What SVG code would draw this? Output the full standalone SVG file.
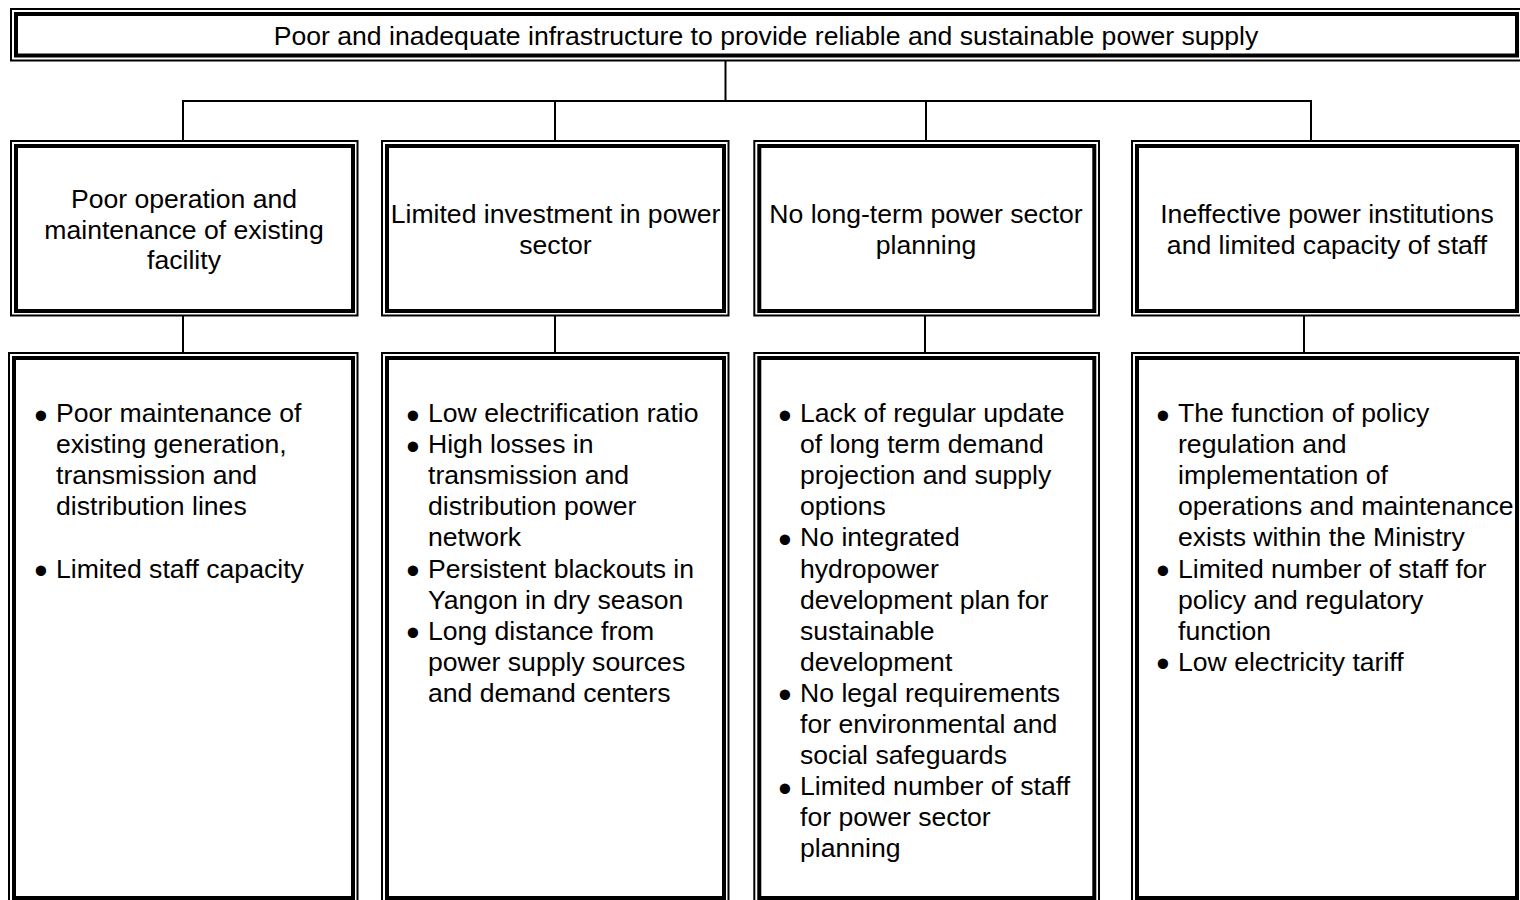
<svg xmlns="http://www.w3.org/2000/svg" width="1520" height="900" viewBox="0 0 1520 900">
  <style>
    .thin { fill: none; stroke: #000; stroke-width: 2; }
    .thick { fill: none; stroke: #000; stroke-width: 4; }
    .link { fill: none; stroke: #000; stroke-width: 2; }
    text { font-family: "Liberation Sans", Arial, sans-serif; font-size: 26.6px; fill: #000; }
    .c { text-anchor: middle; }
    .b { font-size: 38px; text-anchor: middle; }
  </style>
  <rect width="1520" height="900" fill="#fff"/>

  <!-- connectors -->
  <g id="connectors">
    <line class="link" x1="725.5" y1="61" x2="725.5" y2="101"/>
    <line class="link" x1="182" y1="101" x2="1312" y2="101"/>
    <line class="link" x1="183" y1="101" x2="183" y2="140"/>
    <line class="link" x1="555" y1="101" x2="555" y2="140"/>
    <line class="link" x1="926" y1="101" x2="926" y2="140"/>
    <line class="link" x1="1311" y1="100" x2="1311" y2="140"/>
    <line class="link" x1="183" y1="316" x2="183" y2="352"/>
    <line class="link" x1="555" y1="316" x2="555" y2="352"/>
    <line class="link" x1="925" y1="316" x2="925" y2="352"/>
    <line class="link" x1="1304" y1="316" x2="1304" y2="352"/>
  </g>

  <!-- root problem -->
  <g id="root">
    <rect class="thin" x="11" y="9" width="1511" height="51.5"/>
    <rect class="thick" x="16" y="14" width="1501" height="41.5"/>
    <text class="c" x="766" y="45">Poor and inadequate infrastructure to provide reliable and sustainable power supply</text>
  </g>

  <!-- causes -->
  <g id="cause-om">
    <rect class="thin" x="11" y="141" width="346.5" height="174.5"/>
    <rect class="thick" x="16" y="146" width="337" height="165"/>
    <text class="c" x="184" y="208">Poor operation and</text>
    <text class="c" x="184" y="238.5">maintenance of existing</text>
    <text class="c" x="184" y="269">facility</text>
  </g>
  <g id="cause-investment">
    <rect class="thin" x="382" y="141" width="346.5" height="174.5"/>
    <rect class="thick" x="387" y="146" width="337" height="165"/>
    <text class="c" x="555.5" y="223">Limited investment in power</text>
    <text class="c" x="555.5" y="254">sector</text>
  </g>
  <g id="cause-planning">
    <rect class="thin" x="754.3" y="141" width="344.7" height="174.5"/>
    <rect class="thick" x="759.3" y="146" width="335" height="165"/>
    <text class="c" x="926" y="223">No long-term power sector</text>
    <text class="c" x="926" y="254">planning</text>
  </g>
  <g id="cause-institutions">
    <rect class="thin" x="1132" y="141" width="390" height="174.5"/>
    <rect class="thick" x="1137" y="146" width="380" height="165"/>
    <text class="c" x="1327" y="223">Ineffective power institutions</text>
    <text class="c" x="1327" y="254">and limited capacity of staff</text>
  </g>

  <!-- details -->
  <g id="detail-om">
    <rect class="thin" x="9" y="353" width="348.5" height="560"/>
    <rect class="thick" x="14" y="358" width="339" height="540"/>
    <text class="b" x="41" y="428.5">•</text>
    <text x="56" y="422">Poor maintenance of</text>
    <text x="56" y="453.1">existing generation,</text>
    <text x="56" y="484.2">transmission and</text>
    <text x="56" y="515.3">distribution lines</text>
    <text class="b" x="41" y="584">•</text>
    <text x="56" y="577.5">Limited staff capacity</text>
  </g>
  <g id="detail-investment">
    <rect class="thin" x="382" y="353" width="346.5" height="560"/>
    <rect class="thick" x="387" y="358" width="337" height="540"/>
    <text class="b" x="413" y="428.5">•</text>
    <text x="428" y="422">Low electrification ratio</text>
    <text class="b" x="413" y="459.6">•</text>
    <text x="428" y="453.1">High losses in</text>
    <text x="428" y="484.2">transmission and</text>
    <text x="428" y="515.3">distribution power</text>
    <text x="428" y="546.4">network</text>
    <text class="b" x="413" y="584">•</text>
    <text x="428" y="577.5">Persistent blackouts in</text>
    <text x="428" y="608.6">Yangon in dry season</text>
    <text class="b" x="413" y="646.2">•</text>
    <text x="428" y="639.7">Long distance from</text>
    <text x="428" y="670.8">power supply sources</text>
    <text x="428" y="701.9">and demand centers</text>
  </g>
  <g id="detail-planning">
    <rect class="thin" x="754.3" y="353" width="344.7" height="560"/>
    <rect class="thick" x="759.3" y="358" width="335" height="540"/>
    <text class="b" x="785" y="428.5">•</text>
    <text x="800" y="422">Lack of regular update</text>
    <text x="800" y="453.1">of long term demand</text>
    <text x="800" y="484.2">projection and supply</text>
    <text x="800" y="515.3">options</text>
    <text class="b" x="785" y="552.9">•</text>
    <text x="800" y="546.4">No integrated</text>
    <text x="800" y="577.5">hydropower</text>
    <text x="800" y="608.6">development plan for</text>
    <text x="800" y="639.7">sustainable</text>
    <text x="800" y="670.8">development</text>
    <text class="b" x="785" y="708.4">•</text>
    <text x="800" y="701.9">No legal requirements</text>
    <text x="800" y="733">for environmental and</text>
    <text x="800" y="764.1">social safeguards</text>
    <text class="b" x="785" y="801.7">•</text>
    <text x="800" y="795.2">Limited number of staff</text>
    <text x="800" y="826.3">for power sector</text>
    <text x="800" y="857.4">planning</text>
  </g>
  <g id="detail-institutions">
    <rect class="thin" x="1132" y="353" width="390" height="560"/>
    <rect class="thick" x="1137" y="358" width="380" height="540"/>
    <text class="b" x="1163" y="428.5">•</text>
    <text x="1178" y="422">The function of policy</text>
    <text x="1178" y="453.1">regulation and</text>
    <text x="1178" y="484.2">implementation of</text>
    <text x="1178" y="515.3">operations and maintenance</text>
    <text x="1178" y="546.4">exists within the Ministry</text>
    <text class="b" x="1163" y="584">•</text>
    <text x="1178" y="577.5">Limited number of staff for</text>
    <text x="1178" y="608.6">policy and regulatory</text>
    <text x="1178" y="639.7">function</text>
    <text class="b" x="1163" y="677.3">•</text>
    <text x="1178" y="670.8">Low electricity tariff</text>
  </g>
</svg>
